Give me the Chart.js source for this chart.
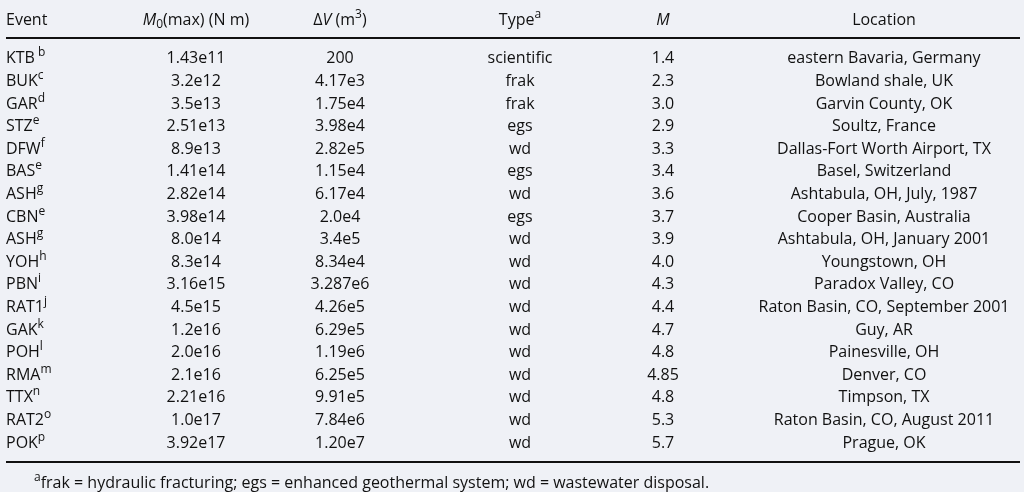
<!DOCTYPE html>
<html>
<head>
<meta charset="utf-8">
<script src="https://cdn.jsdelivr.net/npm/chart.js@4.4.1/dist/chart.umd.min.js"></script>
<style>
  html, body { margin: 0; padding: 0; background: #eff1f6; }
  #wrap { width: 1024px; height: 492px; }
</style>
</head>
<body>
<div id="wrap"><canvas id="tableChart"></canvas></div>
<script>
// ==========================================
// Table data (one entry per row)
// ==========================================
const events      = ['KTB', 'BUK', 'GAR', 'STZ', 'DFW', 'BAS', 'ASH', 'CBN', 'ASH', 'YOH', 'PBN', 'RAT1', 'GAK', 'POH', 'RMA', 'TTX', 'RAT2', 'POK'];
const eventNotes  = [' b', 'c', 'd', 'e', 'f', 'e', 'g', 'e', 'g', 'h', 'i', 'j', 'k', 'l', 'm', 'n', 'o', 'p'];
const momentMax   = ['1.43e11', '3.2e12', '3.5e13', '2.51e13', '8.9e13', '1.41e14', '2.82e14', '3.98e14', '8.0e14', '8.3e14', '3.16e15', '4.5e15', '1.2e16', '2.0e16', '2.1e16', '2.21e16', '1.0e17', '3.92e17'];
const volumes     = ['200', '4.17e3', '1.75e4', '3.98e4', '2.82e5', '1.15e4', '6.17e4', '2.0e4', '3.4e5', '8.34e4', '3.287e6', '4.26e5', '6.29e5', '1.19e6', '6.25e5', '9.91e5', '7.84e6', '1.20e7'];
const types       = ['scientific', 'frak', 'frak', 'egs', 'wd', 'egs', 'wd', 'egs', 'wd', 'wd', 'wd', 'wd', 'wd', 'wd', 'wd', 'wd', 'wd', 'wd'];
const magnitudes  = ['1.4', '2.3', '3.0', '2.9', '3.3', '3.4', '3.6', '3.7', '3.9', '4.0', '4.3', '4.4', '4.7', '4.8', '4.85', '4.8', '5.3', '5.7'];
const locations   = ['eastern Bavaria, Germany', 'Bowland shale, UK', 'Garvin County, OK', 'Soultz, France', 'Dallas-Fort Worth Airport, TX', 'Basel, Switzerland', 'Ashtabula, OH, July, 1987', 'Cooper Basin, Australia', 'Ashtabula, OH, January 2001', 'Youngstown, OH', 'Paradox Valley, CO', 'Raton Basin, CO, September 2001', 'Guy, AR', 'Painesville, OH', 'Denver, CO', 'Timpson, TX', 'Raton Basin, CO, August 2011', 'Prague, OK'];
const footnote    = 'frak = hydraulic fracturing; egs = enhanced geothermal system; wd = wastewater disposal.';

// column order matches the arrays below
const columns = [momentMax, volumes, types, magnitudes, locations];

// ==========================================
// Layout (pixels along the x scale, row units along y)
// ==========================================
const FONT = '"Open Sans", "Noto Sans", sans-serif';
const TEXT_COLOR = '#111';
const COL_X = { event: 6, cells: [196, 340, 520, 663, 884] };
const ROW_Y = { header: -1.704, topRule: -0.88, bottomRule: 17.89, footnote: 18.77 };
const BASELINE_SHIFT = 5.5; // row centre -> text baseline

// one invisible point per cell so each row/column goes through the scales
const cellPoints = [];
events.forEach((ev, r) => {
    cellPoints.push({ x: COL_X.event, y: r });
    columns.forEach((col, c) => cellPoints.push({ x: COL_X.cells[c], y: r }));
});

function drawRich(ctx, parts, x, y, align) {
    // parts: [{t, italic, sup, sub}]
    const fontFor = p => (p.italic ? 'italic ' : '') + (p.sup || p.sub ? '12px ' : '16px ') + FONT;
    let total = 0;
    parts.forEach(p => { ctx.font = fontFor(p); total += ctx.measureText(p.t).width; });
    let cx = align === 'center' ? x - total / 2 : x;
    ctx.textAlign = 'left';
    ctx.textBaseline = 'alphabetic';
    const base = y + BASELINE_SHIFT;
    parts.forEach(p => {
        ctx.font = fontFor(p);
        const dy = p.sup ? -7 : (p.sub ? 3 : 0);
        ctx.fillText(p.t, cx, base + dy);
        cx += ctx.measureText(p.t).width;
    });
}

const tablePlugin = {
    id: 'tableText',
    afterDatasetsDraw(chart) {
        const ctx = chart.ctx;
        const xs = chart.scales.x, ys = chart.scales.y;
        ctx.save();
        ctx.fillStyle = TEXT_COLOR;

        // header
        const hy = ys.getPixelForValue(ROW_Y.header);
        drawRich(ctx, [{ t: 'Event' }], xs.getPixelForValue(COL_X.event), hy, 'left');
        drawRich(ctx, [{ t: 'M', italic: true }, { t: '0', sub: true }, { t: '(max) (N m)' }], xs.getPixelForValue(COL_X.cells[0]), hy, 'center');
        drawRich(ctx, [{ t: '\u0394' }, { t: 'V', italic: true }, { t: ' (m' }, { t: '3', sup: true }, { t: ')' }], xs.getPixelForValue(COL_X.cells[1]), hy, 'center');
        drawRich(ctx, [{ t: 'Type' }, { t: 'a', sup: true }], xs.getPixelForValue(COL_X.cells[2]), hy, 'center');
        drawRich(ctx, [{ t: 'M', italic: true }], xs.getPixelForValue(COL_X.cells[3]), hy, 'center');
        drawRich(ctx, [{ t: 'Location' }], xs.getPixelForValue(COL_X.cells[4]), hy, 'center');

        // rules
        ctx.strokeStyle = '#111';
        ctx.lineWidth = 2;
        [ROW_Y.topRule, ROW_Y.bottomRule].forEach(v => {
            const py = Math.round(ys.getPixelForValue(v));
            ctx.beginPath();
            ctx.moveTo(xs.getPixelForValue(6), py);
            ctx.lineTo(xs.getPixelForValue(1020), py);
            ctx.stroke();
        });

        // body rows from dataset points
        const meta = chart.getDatasetMeta(0);
        const perRow = columns.length + 1;
        meta.data.forEach((pt, i) => {
            const r = Math.floor(i / perRow), c = i % perRow;
            if (c === 0) {
                drawRich(ctx, [{ t: events[r] }, { t: eventNotes[r], sup: true }], pt.x, pt.y, 'left');
            } else {
                drawRich(ctx, [{ t: columns[c - 1][r] }], pt.x, pt.y, 'center');
            }
        });

        // footnote
        drawRich(ctx, [{ t: 'a', sup: true }, { t: footnote }], xs.getPixelForValue(34), ys.getPixelForValue(ROW_Y.footnote), 'left');
        ctx.restore();
    }
};

new Chart(document.getElementById('tableChart'), {
    type: 'scatter',
    data: {
        datasets: [{
            data: cellPoints,
            pointRadius: 0,
            pointHoverRadius: 0
        }]
    },
    options: {
        responsive: true,
        maintainAspectRatio: false,
        animation: false,
        events: [],
        layout: { padding: 0 },
        plugins: { legend: { display: false }, tooltip: { enabled: false } },
        scales: {
            x: { type: 'linear', min: 0, max: 1024, display: false },
            y: { type: 'linear', min: -2.567, max: 19.21, reverse: true, display: false }
        }
    },
    plugins: [tablePlugin]
});
</script>
</body>
</html>
